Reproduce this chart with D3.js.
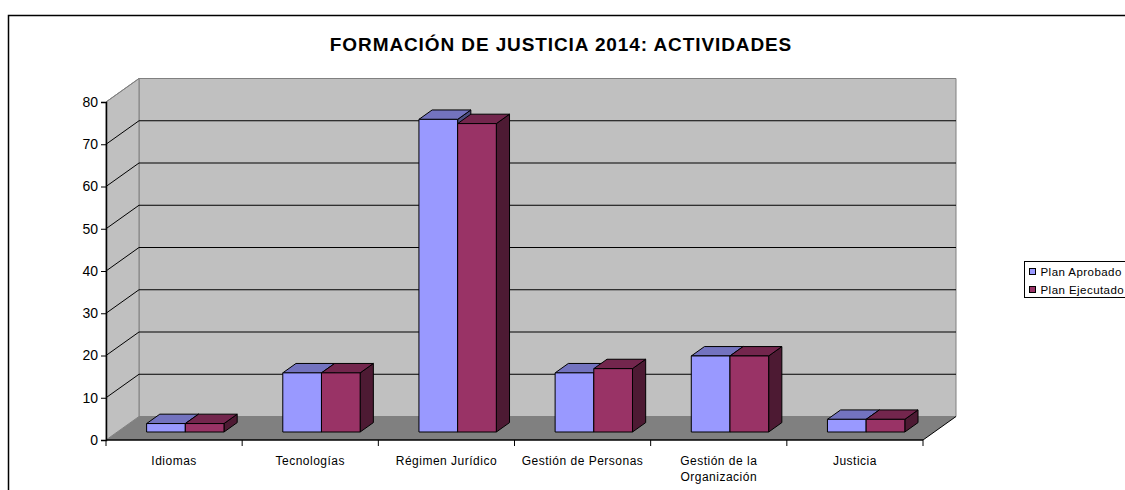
<!DOCTYPE html>
<html>
<head>
<meta charset="utf-8">
<script src="https://cdn.jsdelivr.net/npm/d3@7"></script>
<style>
  body { margin: 0; background: #fff; }
  svg { display: block; font-family: "Liberation Sans", Arial, sans-serif; }
</style>
</head>
<body>
<svg width="1125" height="490"></svg>
<script>
// data
var categories = ["Idiomas", "Tecnologías", "Régimen Jurídico", "Gestión de Personas", "Gestión de la Organización", "Justicia"];
var planAprobado = [2, 14, 74, 14, 18, 3];
var planEjecutado = [2, 14, 73, 15, 18, 3];
var seriesNames = ["Plan Aprobado", "Plan Ejecutado"];
var yTicks = [0, 10, 20, 30, 40, 50, 60, 70, 80];
var title = "FORMACIÓN DE JUSTICIA 2014: ACTIVIDADES";

var svg = d3.select("svg");

// colours per series: front, top, side
var colors = [
  { front: "#9999ff", top: "#7373bf", side: "#4d4d80" },
  { front: "#993366", top: "#73264d", side: "#4d1a33" }
];

// 3d oblique offsets for the full depth
var depthX = 33, depthY = -23.5;
var barZ0 = 0.34, barZ1 = 0.74;

var x = d3.scaleBand().domain(categories).range([106, 923]).padding(0);
var xs = d3.scaleBand().domain(seriesNames).range([0, x.bandwidth()]).paddingInner(0).paddingOuter(0.76);
var y = d3.scaleLinear().domain([0, 80]).range([440, 102]);

function proj(px, v, z) {
  return [px + z * depthX, y(v) + z * depthY];
}
function poly(pts) {
  return pts.map(function(p) { return p.join(","); }).join(" ");
}

// outer chart border (runs off the right and bottom)
svg.append("rect")
  .attr("x", 8.5).attr("y", 15.5)
  .attr("width", 1300).attr("height", 600)
  .attr("fill", "none").attr("stroke", "#000").attr("stroke-width", 1.5);

// title
svg.append("text")
  .attr("x", 561).attr("y", 51)
  .attr("text-anchor", "middle")
  .attr("font-size", "19px").attr("font-weight", "bold")
  .attr("letter-spacing", "0.9px")
  .text(title);

var x0 = x.range()[0], x1 = x.range()[1];
var walls = svg.append("g");

// back wall
walls.append("polygon")
  .attr("points", poly([proj(x0, 0, 1), proj(x1, 0, 1), proj(x1, 80, 1), proj(x0, 80, 1)]))
  .attr("fill", "#c0c0c0").attr("stroke", "#808080");
// left wall
walls.append("polygon")
  .attr("points", poly([proj(x0, 0, 0), proj(x0, 0, 1), proj(x0, 80, 1), proj(x0, 80, 0)]))
  .attr("fill", "#c0c0c0").attr("stroke", "#808080");
// floor
walls.append("polygon")
  .attr("points", poly([proj(x0, 0, 0), proj(x1, 0, 0), proj(x1, 0, 1), proj(x0, 0, 1)]))
  .attr("fill", "#808080").attr("stroke", "none");

// gridlines
var grid = yTicks.filter(function(t) { return t > 0 && t < 80; });
walls.selectAll("line.gb").data(grid).enter().append("line")
  .attr("x1", function(d) { return proj(x0, d, 1)[0]; })
  .attr("y1", function(d) { return proj(x0, d, 1)[1]; })
  .attr("x2", function(d) { return proj(x1, d, 1)[0]; })
  .attr("y2", function(d) { return proj(x1, d, 1)[1]; })
  .attr("stroke", "#000").attr("stroke-width", 1);
walls.selectAll("line.gl").data(grid.concat([80])).enter().append("line")
  .attr("x1", function(d) { return proj(x0, d, 0)[0]; })
  .attr("y1", function(d) { return proj(x0, d, 0)[1]; })
  .attr("x2", function(d) { return proj(x0, d, 1)[0]; })
  .attr("y2", function(d) { return proj(x0, d, 1)[1]; })
  .attr("stroke", function(d) { return d == 80 ? "#808080" : "#000"; }).attr("stroke-width", 1);

// floor right edge
walls.append("line")
  .attr("x1", proj(x1, 0, 0)[0]).attr("y1", proj(x1, 0, 0)[1])
  .attr("x2", proj(x1, 0, 1)[0]).attr("y2", proj(x1, 0, 1)[1])
  .attr("stroke", "#000");

// bars
var rows = [];
categories.forEach(function(c, i) {
  rows.push({ cat: c, s: 0, v: planAprobado[i] });
  rows.push({ cat: c, s: 1, v: planEjecutado[i] });
});

var bars = svg.append("g").selectAll("g").data(rows).enter().append("g");
bars.each(function(d) {
  var g = d3.select(this);
  var bx0 = x(d.cat) + xs(seriesNames[d.s]);
  var bx1 = bx0 + xs.bandwidth();
  var c = colors[d.s];
  // side
  g.append("polygon")
    .attr("points", poly([proj(bx1, 0, barZ0), proj(bx1, 0, barZ1), proj(bx1, d.v, barZ1), proj(bx1, d.v, barZ0)]))
    .attr("fill", c.side).attr("stroke", "#000").attr("stroke-linejoin", "round");
  // top
  g.append("polygon")
    .attr("points", poly([proj(bx0, d.v, barZ0), proj(bx1, d.v, barZ0), proj(bx1, d.v, barZ1), proj(bx0, d.v, barZ1)]))
    .attr("fill", c.top).attr("stroke", "#000").attr("stroke-linejoin", "round");
  // front
  g.append("polygon")
    .attr("points", poly([proj(bx0, 0, barZ0), proj(bx1, 0, barZ0), proj(bx1, d.v, barZ0), proj(bx0, d.v, barZ0)]))
    .attr("fill", c.front).attr("stroke", "#000").attr("stroke-linejoin", "round");
});

// y axis
var yAxis = svg.append("g")
  .attr("transform", "translate(" + x0 + ",0)")
  .call(d3.axisLeft(y).tickValues(yTicks).tickSize(5).tickPadding(3));
yAxis.selectAll("text").attr("font-size", "14px").attr("font-family", "Liberation Sans, Arial, sans-serif").attr("fill", "#000");
yAxis.select(".domain").attr("stroke", "#000").attr("stroke-width", 1.5);

// x axis: line and ticks at category boundaries
var xAxis = svg.append("g");
xAxis.append("line")
  .attr("x1", x0).attr("x2", x1).attr("y1", y(0)).attr("y2", y(0))
  .attr("stroke", "#000").attr("stroke-width", 1.5);
var bounds = categories.map(function(c) { return x(c); }).concat([x1]);
xAxis.selectAll("line.t").data(bounds).enter().append("line")
  .attr("x1", function(d) { return d; }).attr("x2", function(d) { return d; })
  .attr("y1", y(0)).attr("y2", y(0) + 6)
  .attr("stroke", "#000");

// category labels, wrapped to the band width
var labels = xAxis.selectAll("text.cat").data(categories).enter().append("text")
  .attr("class", "cat")
  .attr("x", function(d) { return x(d) + x.bandwidth() / 2; })
  .attr("y", 465)
  .attr("text-anchor", "middle")
  .attr("font-size", "12px")
  .attr("letter-spacing", "0.5px");
labels.each(function(d) {
  var t = d3.select(this);
  var words = d.split(" ");
  var line = [];
  var ts = t.append("tspan").attr("x", t.attr("x"));
  words.forEach(function(w) {
    line.push(w);
    ts.text(line.join(" "));
    if (ts.node().getComputedTextLength() > x.bandwidth() - 8 && line.length > 1) {
      line.pop();
      ts.text(line.join(" "));
      line = [w];
      ts = t.append("tspan").attr("x", t.attr("x")).attr("dy", "16px").text(w);
    }
  });
});

// legend
var leg = svg.append("g").attr("transform", "translate(1024.5,261.5)");
leg.append("rect").attr("width", 200).attr("height", 36)
  .attr("fill", "#fff").attr("stroke", "#000");
var li = leg.selectAll("g").data(seriesNames).enter().append("g")
  .attr("transform", function(d, i) { return "translate(5," + (7 + i * 18) + ")"; });
li.append("rect").attr("width", 6).attr("height", 6)
  .attr("fill", function(d, i) { return colors[i].front; }).attr("stroke", "#000");
li.append("text").attr("x", 11).attr("y", 7)
  .attr("font-size", "11.5px")
  .attr("letter-spacing", "0.45px")
  .text(function(d) { return d; });
</script>
</body>
</html>
